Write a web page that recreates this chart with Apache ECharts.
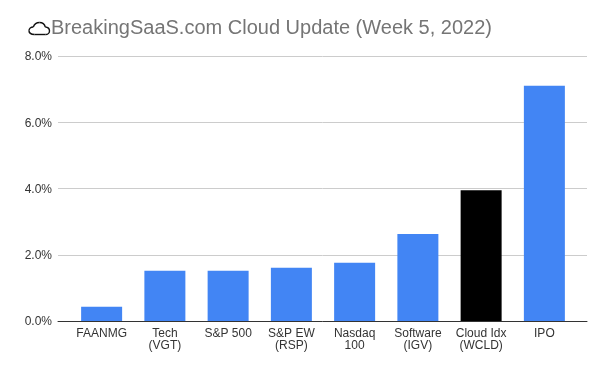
<!DOCTYPE html>
<html><head><meta charset="utf-8">
<style>html,body{margin:0;padding:0;background:#fff}#c{width:602px;height:370px}</style>
<script src="https://cdn.jsdelivr.net/npm/echarts@6/dist/echarts.min.js"></script>
</head><body><div id="c"></div>
<script>
const categories = ['FAANMG','Tech\n(VGT)','S&P 500','S&P EW\n(RSP)','Nasdaq\n100','Software\n(IGV)','Cloud Idx\n(WCLD)','IPO'];
const values = [0.43,1.52,1.52,1.61,1.76,2.63,3.95,7.1];
const barColors = ['#4285f4','#4285f4','#4285f4','#4285f4','#4285f4','#4285f4','#000000','#4285f4'];
const font = 'Liberation Sans, Arial, sans-serif';
const cloudStyle = {fill:'none',stroke:'#111',lineWidth:1.4};
const curve = (x1,y1,cpx1,cpy1,cpx2,cpy2,x2,y2)=>({type:'bezierCurve',shape:{x1,y1,cpx1,cpy1,cpx2,cpy2,x2,y2},style:cloudStyle});
const chart = echarts.init(document.getElementById('c'), null, {renderer:'canvas'});
chart.setOption({
  animation:false,
  backgroundColor:'#fff',
  title:{text:'BreakingSaaS.com Cloud Update (Week 5, 2022)',left:46,top:13,
    textStyle:{fontFamily:font,fontSize:20,fontWeight:'normal',color:'#757575'}},
  graphic:[{type:'group',left:26.5,top:20,children:[
    curve(6,12.5,2.5,12.5,0.5,10.8,0.5,8.8),
    curve(0.5,8.8,0.5,6.6,2.4,5,4.8,5),
    curve(4.8,5,5.8,2.2,8.2,0.5,11,0.5),
    curve(11,0.5,14,0.5,16.2,2.6,16.8,5),
    curve(16.8,5,19.2,5.2,21,6.8,21,8.9),
    curve(21,8.9,21,10.9,19.2,12.5,17,12.5),
    {type:'line',shape:{x1:6,y1:12.5,x2:17,y2:12.5},style:cloudStyle}
  ]}],
  grid:[
    {left:58,right:15,top:56,bottom:49},
    {left:70,width:506,top:56,bottom:49}
  ],
  xAxis:[
    {type:'category',gridIndex:0,data:[''],axisTick:{show:false},axisLabel:{show:false},
     axisLine:{show:true,lineStyle:{color:'#333',width:1}},splitLine:{show:false}},
    {type:'category',gridIndex:1,data:categories,axisTick:{show:false},axisLine:{show:false},
     axisLabel:{interval:0,margin:7,fontFamily:font,fontSize:12,color:'#333',lineHeight:12}}
  ],
  yAxis:[
    {type:'value',gridIndex:0,min:0,max:8,interval:2,
     axisLine:{show:false},axisTick:{show:false},
     splitLine:{lineStyle:{color:'#ccc',width:1}},
     axisLabel:{margin:6,verticalAlign:'top',lineHeight:2,fontFamily:font,fontSize:12,color:'#333',formatter:v=>v.toFixed(1)+'%'}},
    {type:'value',gridIndex:1,min:0,max:8,interval:2,show:false}
  ],
  series:[{type:'bar',xAxisIndex:1,yAxisIndex:1,barWidth:41,
    data:values.map((v,i)=>({value:v,itemStyle:{color:barColors[i]}}))}]
});
</script></body></html>
